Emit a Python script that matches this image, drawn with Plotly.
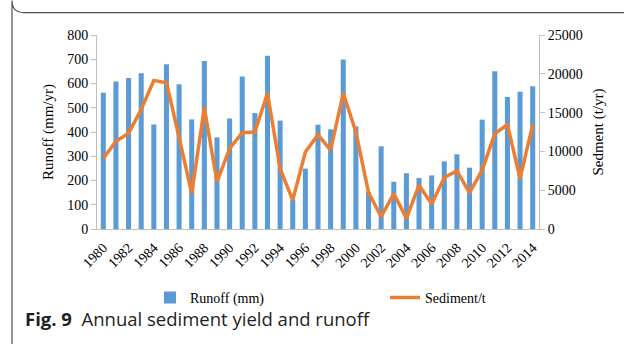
import plotly.graph_objects as go

years = list(range(1980, 2015))
runoff = [562, 608, 623, 642, 431, 679, 597, 452, 693, 378,
          456, 629, 478, 714, 447, 120, 249, 430, 411, 699,
          423, 153, 341, 195, 230, 210, 221, 279, 308, 253,
          451, 651, 544, 566, 589]
sediment = [9075, 11300, 12350, 15400, 19150, 18850, 11800, 4580, 15625, 6080,
            10360, 12414, 12500, 17500, 7790, 3724, 9930, 12160, 10150, 17500,
            12500, 4710, 1580, 4580, 1370, 5650, 3210, 6630, 7490, 4670,
            7580, 12290, 13440, 6500, 13440]
xticks = list(range(1980, 2015, 2))

W, H = 624, 344
L, R, T, B = 97, 539, 34.5, 229
pw, ph = R - L, B - T

def px(x):
    return (x - L) / pw

def py(y):
    return (B - y) / ph

serif = "Liberation Serif"
fig = go.Figure()
fig.add_trace(go.Bar(x=years, y=runoff, name="Runoff (mm)", legend="legend",
                     marker=dict(color="#5B9BD5", line=dict(width=0))))
fig.add_trace(go.Scatter(x=years, y=sediment, name="Sediment/t", yaxis="y2",
                         legend="legend2",
                         mode="lines", line=dict(color="#ED7D31", width=3.5)))

axcol = "#BFBFBF"
fig.update_layout(
    width=W, height=H,
    margin=dict(l=L, r=W - R, t=T, b=H - B, pad=0, autoexpand=False),
    paper_bgcolor="white", plot_bgcolor="white",
    font=dict(family=serif, size=14, color="#000000"),
    bargap=0.6,
    showlegend=True,
    xaxis=dict(range=[1979.5, 2014.5], tickvals=xticks, ticktext=[str(v) for v in xticks],
               tickangle=-45, showgrid=False, zeroline=False, showline=True,
               linecolor=axcol, linewidth=1, ticks="", tickfont=dict(size=14),
               ticklabelstandoff=4, automargin=False),
    yaxis=dict(range=[0, 800], dtick=100, showgrid=False, zeroline=False,
               showline=True, linecolor=axcol, linewidth=1, ticks="outside",
               ticklen=5, tickcolor=axcol, tickfont=dict(size=14), automargin=False,
               title=dict(text="Runoff (mm/yr)", font=dict(size=15), standoff=9)),
    yaxis2=dict(range=[0, 25000], dtick=5000, overlaying="y", side="right",
                showgrid=False, zeroline=False, showline=True, linecolor=axcol,
                linewidth=1, ticks="outside", ticklen=5, tickcolor=axcol,
                tickfont=dict(size=14), tickformat="d", automargin=False,
                title=dict(text="Sedment (t/yr)", font=dict(size=15), standoff=10)),
    legend=dict(x=px(150), y=py(282), xanchor="left", yanchor="top",
                font=dict(family=serif, size=14), bgcolor="rgba(0,0,0,0)"),
    legend2=dict(x=px(385), y=py(282), xanchor="left", yanchor="top",
                 font=dict(family=serif, size=14), bgcolor="rgba(0,0,0,0)"),
)

# rounded frame
x0, x1 = px(12), px(640)
y0, y1 = py(12), py(354)
rx, ry = 12 / pw, 12 / ph
path = (f"M {x0},{y0 + ry} L {x0},{y1 - ry} Q {x0},{y1} {x0 + rx},{y1} "
        f"L {x1},{y1} L {x1},{y0} L {x0 + rx},{y0} Q {x0},{y0} {x0},{y0 + ry} Z")
fig.add_shape(type="path", path=path, xref="paper", yref="paper",
              line=dict(color="#4D4D4D", width=1.2), fillcolor="rgba(0,0,0,0)")

fig.add_annotation(text="<b>Fig. 9</b>  Annual sediment yield and runoff",
                   xref="paper", yref="paper", x=px(23), y=py(319),
                   xanchor="left", yanchor="middle", showarrow=False,
                   font=dict(family="Open Sans", size=18.5, color="#231F20"))

fig.write_html("out.html")
